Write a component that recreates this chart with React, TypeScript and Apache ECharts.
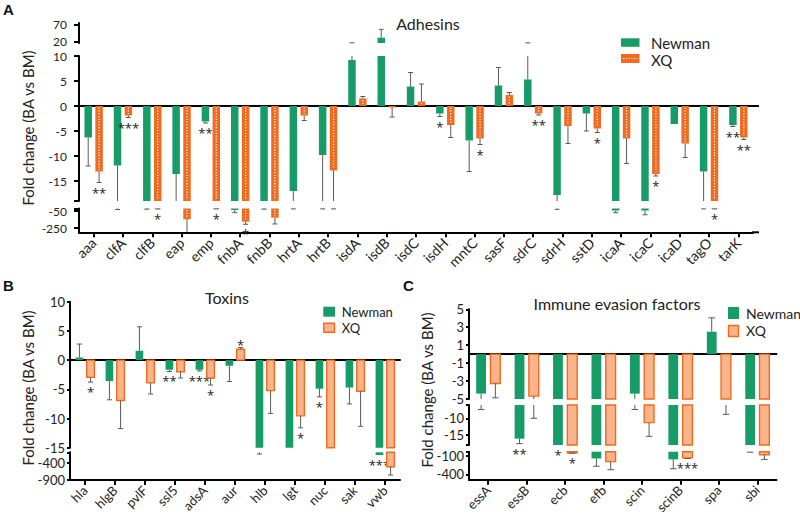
import React, { useEffect, useRef } from 'react';
import * as echarts from 'echarts';

// ---------- Panel A: Adhesins ----------
const catsA = ['aaa', 'clfA', 'clfB', 'eap', 'emp', 'fnbA', 'fnbB', 'hrtA', 'hrtB', 'isdA', 'isdB', 'isdC', 'isdH', 'mntC', 'sasF', 'sdrC', 'sdrH', 'sstD', 'icaA', 'icaC', 'icaD', 'tagO', 'tarK'];
const newmanA = [-6.3, -11.9, -22, -13.6, -3.1, -37, -22, -17, -9.8, 9.2, 31, 3.9, -1.5, -6.9, 4.1, 5.3, -17.8, -1.5, -44, -44, -3.6, -13.1, -3.8];
const newmanErrA = [5.7, 20, 6, 6, 0.3, 32, 6, 8, 15, 6.3, 25, 2.8, 0.6, 6.2, 3.6, 10, 12, 3.5, 25, 50, 0, 12, 0.3];
const newmanSigA = ['', '', '', '', '**', '', '', '', '', '', '', '', '*', '', '', '', '', '', '', '', '', '', '**'];
const xqA = [-13.1, -1.9, -24, -147, -24, -175, -128, -1.9, -12.9, 1.5, -0.3, 0.9, -3.8, -6.5, 2.2, -1.5, -4, -4.5, -6.5, -13.6, -7.5, -24, -6.3];
const xqErrA = [2.2, 0.4, 2, 170, 1, 31, 74, 1, 12, 0.4, 1.9, 3.5, 2.5, 1.2, 0.5, 0.3, 3.5, 0.8, 5, 0.4, 2.8, 1, 0.4];
const xqSigA = ['**', '***', '*', '', '*', '*', '', '', '', '', '', '', '', '*', '', '**', '', '*', '', '*', '', '*', '**'];

// ---------- Panel B: Toxins ----------
const catsB = ['hla', 'hlgB', 'pvlF', 'ssl5', 'adsA', 'aur', 'hlb', 'lgt', 'nuc', 'sak', 'vwb'];
const newmanB = [0.45, -3.6, 1.6, -1.65, -1.65, -0.97, -60, -30, -4.9, -4.7, -180];
const newmanErrB = [2.3, 3.2, 4.1, 0.3, 0.2, 2.7, 90, 0, 1.4, 2.8, 0];
const newmanSigB = ['', '', '', '**', '***', '', '', '', '*', '', '***'];
const xqB = [-2.96, -6.93, -3.9, -2, -3.07, 1.87, -5.23, -9.55, -40, -5.34, -516];
const xqErrB = [0.8, 4.8, 1.9, 1.07, 1.2, 0.28, 3.9, 2.05, 0, 6, 240];
const xqSigB = ['*', '', '', '', '*', '*', '', '*', '', '', ''];

// ---------- Panel C: Immune evasion factors ----------
const catsC = ['essA', 'essB', 'ecb', 'efb', 'scin', 'scinB', 'spa', 'sbi'];
const newmanC = [-4.4, -16.1, -25, -145, -4.4, -160, 2.5, -30];
const newmanErrC = [2.95, 1.5, 0, 125, 2.95, 150, 1.55, 14];
const newmanSigC = ['', '**', '*', '', '', '', '', ''];
const xqC = [-3.27, -4.68, -55, -195, -11.3, -135, -6, -85];
const xqErrC = [1.6, 5.3, 5, 130, 4.1, 10, 2.8, 75];
const xqSigC = ['', '', '*', '', '', '***', '', ''];

// ---------- tick labels per axis segment ----------
const ticksA = [[70, 20], [10, 5, 0, -5, -10, -15], [-50, -250]];
const ticksB = [[10, 5, 0, -5, -10, -15], [-400, -900]];
const ticksC = [[5, 3, 1, -1, -3, -5], [-10, -15], [-100, -400]];

const GREEN = '#179c68';
const ORANGE = '#f26a1f';
const ORANGE_LIGHT = '#f8b48a';
const ERR = '#5a5a5a';
const FONT = 'Lato, "Open Sans", sans-serif';
const SIG_FONT = '13px "Open Sans", sans-serif';

type Seg = { lo: number; hi: number; top: number; height: number; labels: number[]; ticks: number[] };
type Panel = {
  cats: string[]; left: number; width: number; segs: Seg[]; zeroSeg: number;
  nV: number[]; nE: number[]; nS: string[]; xV: number[]; xE: number[]; xS: string[];
  xqStyle: 'dots' | 'hatch'; labelSize: number; xLabelSize: number; tickLen: number; labelMargin: number;
};

const panels: Panel[] = [
  {
    cats: catsA, left: 79, width: 674, zeroSeg: 1,
    segs: [
      { lo: 15, hi: 75, top: 23, height: 20, labels: ticksA[0], ticks: ticksA[0] },
      { lo: -19, hi: 10, top: 56, height: 145, labels: ticksA[1], ticks: [...ticksA[1], -19] },
      { lo: -300, hi: -20, top: 208.5, height: 23.8, labels: ticksA[2], ticks: [-20, ...ticksA[2]] },
    ],
    nV: newmanA, nE: newmanErrA, nS: newmanSigA, xV: xqA, xE: xqErrA, xS: xqSigA,
    xqStyle: 'dots', labelSize: 12, xLabelSize: 14, tickLen: 5, labelMargin: 12,
  },
  {
    cats: catsB, left: 70, width: 330, zeroSeg: 0,
    segs: [
      { lo: -15, hi: 10, top: 301.7, height: 146, labels: ticksB[0], ticks: ticksB[0] },
      { lo: -900, hi: -100, top: 452.3, height: 27.7, labels: ticksB[1], ticks: [-100, ...ticksB[1]] },
    ],
    nV: newmanB, nE: newmanErrB, nS: newmanSigB, xV: xqB, xE: xqErrB, xS: xqSigB,
    xqStyle: 'hatch', labelSize: 13, xLabelSize: 13, tickLen: 3, labelMargin: 5,
  },
  {
    cats: catsC, left: 469, width: 307.5, zeroSeg: 0,
    segs: [
      { lo: -5, hi: 5, top: 309.3, height: 89.7, labels: ticksC[0], ticks: ticksC[0] },
      { lo: -18, hi: -6, top: 405, height: 40, labels: ticksC[1], ticks: [-6, ...ticksC[1], -18] },
      { lo: -486, hi: -36, top: 451.7, height: 30, labels: ticksC[2], ticks: [-36, ...ticksC[2]] },
    ],
    nV: newmanC, nE: newmanErrC, nS: newmanSigC, xV: xqC, xE: xqErrC, xS: xqSigC,
    xqStyle: 'hatch', labelSize: 13, xLabelSize: 13, tickLen: 3, labelMargin: 5,
  },
];

function makeRender(p: Panel, si: number, strain: 0 | 1) {
  const seg = p.segs[si];
  const vals = strain === 0 ? p.nV : p.xV;
  const errs = strain === 0 ? p.nE : p.xE;
  const sigs = strain === 0 ? p.nS : p.xS;
  return (params: any, api: any) => {
    const i = params.dataIndex;
    const v = vals[i], e = errs[i], sig = sigs[i];
    const cx = api.coord([i, seg.lo])[0];
    const bw = api.size([1, 0])[0];
    const w = bw * 0.255, off = bw * 0.058;
    const x0 = strain === 0 ? cx - off - w : cx + off;
    const xc = x0 + w / 2;
    const Y = (val: number) => api.coord([i, val])[1];
    const children: any[] = [];
    const a = Math.max(Math.min(0, v), seg.lo);
    const b = Math.min(Math.max(0, v), seg.hi);
    if (b > a) {
      const y1 = Y(b), y2 = Y(a);
      let style: any;
      if (strain === 0) style = { fill: GREEN };
      else if (p.xqStyle === 'dots') style = { fill: ORANGE };
      else style = { fill: ORANGE_LIGHT, stroke: ORANGE, lineWidth: 1.4 };
      children.push({ type: 'rect', shape: { x: x0, y: y1, width: w, height: y2 - y1 }, style });
      if (strain === 1 && p.xqStyle === 'dots' && y2 - y1 > 3) {
        children.push({ type: 'line', shape: { x1: xc, y1: y1 + 1.5, x2: xc, y2: y2 - 1.5 }, style: { stroke: '#ffffff', lineWidth: 1.2, lineDash: [1.2, 1.6] } });
      }
    }
    const end = e > 0 ? (v >= 0 ? v + e : v - e) : v;
    if (e > 0) {
      const wa = Math.max(Math.min(v, end), seg.lo);
      const wb = Math.min(Math.max(v, end), seg.hi);
      if (wb > wa) children.push({ type: 'line', shape: { x1: xc, y1: Y(wb), x2: xc, y2: Y(wa) }, style: { stroke: ERR, lineWidth: 1 } });
      if (end >= seg.lo && end <= seg.hi) {
        const cw = bw * 0.085;
        children.push({ type: 'line', shape: { x1: xc - cw, y1: Y(end), x2: xc + cw, y2: Y(end) }, style: { stroke: ERR, lineWidth: 1 } });
      }
    }
    if (sig) {
      const segs = p.segs;
      let k = -1;
      let ty = 0;
      if (v < 0) {
        for (let j = 0; j < segs.length; j++) {
          const nextHi = j + 1 < segs.length ? segs[j + 1].hi : -Infinity;
          if (end > nextHi) { k = j; break; }
        }
        if (k === si) ty = Y(Math.max(end, seg.lo)) + 10;
      } else {
        for (let j = segs.length - 1; j >= 0; j--) {
          const prevLo = j - 1 >= 0 ? segs[j - 1].lo : Infinity;
          if (end < prevLo) { k = j; break; }
        }
        if (k === si) ty = Y(Math.min(end, seg.hi)) - 3;
      }
      if (k === si) {
        children.push({
          type: 'text', x: xc, y: ty,
          style: { text: sig, fill: '#222', font: SIG_FONT, align: 'center', verticalAlign: 'middle', textAlign: 'center', textVerticalAlign: 'middle' },
        });
      }
    }
    return { type: 'group', children };
  };
}

function buildOption() {
  const grid: any[] = [], xAxis: any[] = [], yAxis: any[] = [], series: any[] = [];
  panels.forEach((p) => {
    p.segs.forEach((s, si) => {
      const gi = grid.length;
      const isBottom = si === p.segs.length - 1;
      const isZero = si === p.zeroSeg;
      grid.push({ left: p.left, width: p.width, top: s.top, height: s.height, containLabel: false });
      xAxis.push({
        type: 'category', gridIndex: gi, data: p.cats,
        axisLine: { show: isBottom || isZero, onZero: !isBottom, lineStyle: { color: '#000', width: 2 } },
        axisTick: { show: isBottom, alignWithLabel: true, length: 5, lineStyle: { color: '#000', width: 2 } },
        axisLabel: { show: isBottom, rotate: 45, margin: 8, fontSize: p.xLabelSize, fontFamily: FONT, color: '#222' },
        splitLine: { show: false },
      });
      yAxis.push({
        type: 'value', gridIndex: gi, min: s.lo, max: s.hi,
        axisLine: { show: true, lineStyle: { color: '#000', width: 2 } },
        axisTick: { show: true, length: p.tickLen, customValues: s.ticks, lineStyle: { color: '#000', width: 2 } },
        axisLabel: { show: true, customValues: s.labels, margin: p.labelMargin, fontSize: p.labelSize, lineHeight: 11, fontFamily: FONT, color: '#222' },
        splitLine: { show: false },
      });
      ([0, 1] as const).forEach((strain) => {
        const vals = strain === 0 ? p.nV : p.xV;
        series.push({
          type: 'custom', xAxisIndex: gi, yAxisIndex: gi, clip: false,
          data: vals.map((v, i) => [i, v]),
          renderItem: makeRender(p, si, strain),
        });
      });
    });
  });

  const txt = (x: number, y: number, text: string, font: string, align = 'left') => ({
    type: 'text', x, y,
    style: { text, font, fill: '#222', align, verticalAlign: 'middle', textAlign: align, textVerticalAlign: 'middle' },
  });
  const graphic: any[] = [];
  const letter = (x: number, y: number, t: string) => ({
    type: 'text', x, y,
    style: { text: t, font: 'bold 15px "Liberation Sans", Arial, sans-serif', fill: '#111', align: 'left', verticalAlign: 'middle', textAlign: 'left', textVerticalAlign: 'middle' },
  });
  graphic.push(letter(3, 9, 'A'), letter(3, 285, 'B'), letter(403, 285, 'C'));
  graphic.push(txt(428, 23, 'Adhesins', `16px ${FONT}`, 'center'));
  graphic.push(txt(227, 297, 'Toxins', `16px ${FONT}`, 'center'));
  graphic.push(txt(617, 303, 'Immune evasion factors', `16px ${FONT}`, 'center'));
  const yname = (x: number, y: number) => ({
    type: 'text', x, y, rotation: Math.PI / 2,
    style: { text: 'Fold change (BA vs BM)', font: `15px ${FONT}`, fill: '#222', align: 'center', verticalAlign: 'middle', textAlign: 'center', textVerticalAlign: 'middle' },
  });
  graphic.push(yname(28, 128), yname(28, 388), yname(427, 390));
  // axis line extensions past the last category (as in the reference)
  graphic.push({ type: 'line', shape: { x1: 752, y1: 106, x2: 759, y2: 106 }, style: { stroke: '#000', lineWidth: 2 } });
  graphic.push({ type: 'line', shape: { x1: 752, y1: 232.3, x2: 759, y2: 232.3 }, style: { stroke: '#000', lineWidth: 2 } });
  // legends
  graphic.push({ type: 'rect', shape: { x: 621, y: 38.3, width: 18.5, height: 8.5 }, style: { fill: GREEN } });
  graphic.push({ type: 'rect', shape: { x: 621, y: 54, width: 18.5, height: 9 }, style: { fill: ORANGE } });
  graphic.push({ type: 'line', shape: { x1: 623, y1: 58.5, x2: 638, y2: 58.5 }, style: { stroke: '#fff', lineWidth: 1.2, lineDash: [1.2, 1.6] } });
  graphic.push(txt(651, 43, 'Newman', `15px ${FONT}`), txt(651, 59.5, 'XQ', `15px ${FONT}`));
  graphic.push({ type: 'rect', shape: { x: 323.3, y: 306.7, width: 11.7, height: 10 }, style: { fill: GREEN } });
  graphic.push({ type: 'rect', shape: { x: 323.8, y: 323.2, width: 10.7, height: 9 }, style: { fill: ORANGE_LIGHT, stroke: ORANGE, lineWidth: 1.4 } });
  graphic.push(txt(341.7, 312, 'Newman', `13px ${FONT}`), txt(341.7, 328.3, 'XQ', `13px ${FONT}`));
  graphic.push({ type: 'rect', shape: { x: 728, y: 307, width: 11, height: 12 }, style: { fill: GREEN } });
  graphic.push({ type: 'rect', shape: { x: 728.5, y: 325.5, width: 10, height: 11 }, style: { fill: ORANGE_LIGHT, stroke: ORANGE, lineWidth: 1.4 } });
  graphic.push(txt(746, 313, 'Newman', `14px ${FONT}`), txt(746, 330.7, 'XQ', `14px ${FONT}`));

  return { animation: false, backgroundColor: '#ffffff', grid, xAxis, yAxis, series, graphic };
}

export default function App() {
  const ref = useRef<HTMLDivElement>(null);
  useEffect(() => {
    if (!ref.current) return;
    const chart = echarts.init(ref.current, undefined, { renderer: 'svg' });
    chart.setOption(buildOption() as any);
    return () => chart.dispose();
  }, []);
  return <div ref={ref} style={{ position: 'fixed', left: 0, top: 0, width: 800, height: 516 }} />;
}
